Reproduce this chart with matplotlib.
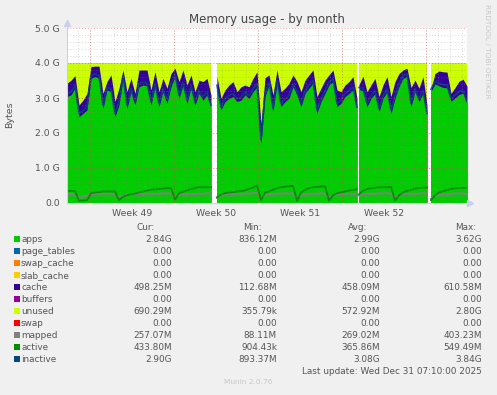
import numpy as np
import matplotlib
matplotlib.use("Agg")
import matplotlib.pyplot as plt
from matplotlib.patches import Rectangle

# memory size (G), sampling step (hours) and segment start (hours since graph start)
MEM_TOTAL = 4.0
STEP = 8
seg_start = [0, 300, 584, 728]

apps_1 = [3.04, 3.09, 3.28, 2.47, 2.56, 2.66, 3.56, 3.61, 3.56, 2.70, 3.23, 3.18, 2.47, 2.80, 3.56, 2.70,
          3.18, 2.80, 3.32, 3.37, 3.35, 2.80, 3.32, 2.75, 3.18, 2.85, 3.32, 3.61, 2.99, 3.37, 2.85, 3.28,
          2.80, 3.13, 2.94, 3.09, 2.70]
apps_2 = [3.28, 2.66, 2.90, 2.99, 3.04, 2.90, 2.94, 3.09, 2.99, 3.18, 3.32, 1.70, 3.04, 3.37, 2.61, 3.42,
          2.75, 2.90, 2.99, 3.32, 3.09, 2.75, 3.13, 3.28, 3.42, 2.56, 2.90, 3.13, 3.37, 3.47, 2.75, 2.85,
          3.04, 3.13, 3.23, 2.66]
apps_3 = [3.25, 3.20, 2.75, 2.99, 3.13, 2.61, 2.99, 3.18, 2.56, 2.99, 3.32, 3.56, 3.61, 2.75, 3.18, 2.90,
          3.13, 2.47]
apps_4 = [3.19, 3.40, 3.35, 3.30, 3.29, 2.91, 3.00, 3.10, 3.14, 2.84]

cache_1 = [0.38, 0.42, 0.36, 0.33, 0.38, 0.47, 0.34, 0.30, 0.35, 0.43, 0.24, 0.48, 0.43, 0.48, 0.24, 0.48,
           0.38, 0.33, 0.48, 0.43, 0.45, 0.43, 0.43, 0.43, 0.38, 0.43, 0.38, 0.24, 0.48, 0.43, 0.52, 0.38,
           0.38, 0.38, 0.53, 0.47, 0.39]
cache_2 = [0.33, 0.33, 0.33, 0.38, 0.43, 0.28, 0.38, 0.28, 0.33, 0.38, 0.43, 0.55, 0.54, 0.29, 0.48, 0.38,
           0.43, 0.38, 0.43, 0.34, 0.38, 0.43, 0.38, 0.38, 0.38, 0.48, 0.38, 0.38, 0.29, 0.33, 0.48, 0.33,
           0.33, 0.34, 0.38, 0.33]
cache_3 = [0.13, 0.42, 0.43, 0.38, 0.43, 0.43, 0.38, 0.43, 0.48, 0.48, 0.38, 0.24, 0.24, 0.55, 0.33, 0.38,
           0.48, 0.33]
cache_4 = [0.06, 0.30, 0.42, 0.45, 0.45, 0.22, 0.30, 0.38, 0.40, 0.50]

inactive_1 = [3.12, 3.17, 3.36, 2.56, 2.64, 2.75, 3.64, 3.69, 3.64, 2.79, 3.30, 3.27, 2.55, 2.89, 3.63, 2.79,
              3.26, 2.88, 3.41, 3.45, 3.43, 2.89, 3.40, 2.84, 3.26, 2.94, 3.40, 3.68, 3.08, 3.45, 2.94, 3.36,
              2.89, 3.21, 3.03, 3.17, 2.79]
inactive_2 = [3.36, 2.74, 2.98, 3.07, 3.12, 2.98, 3.02, 3.17, 3.07, 3.26, 3.41, 1.80, 3.12, 3.45, 2.70, 3.50,
              2.84, 2.98, 3.07, 3.40, 3.17, 2.84, 3.21, 3.36, 3.50, 2.65, 2.98, 3.21, 3.45, 3.55, 2.84, 2.93,
              3.12, 3.21, 3.31, 2.74]
inactive_3 = [3.30, 3.28, 2.84, 3.07, 3.21, 2.70, 3.07, 3.26, 2.65, 3.07, 3.40, 3.64, 3.69, 2.84, 3.26, 2.98,
              3.21, 2.56]
inactive_4 = [3.25, 3.48, 3.43, 3.38, 3.37, 2.98, 3.08, 3.18, 3.22, 2.90]

active_1 = [0.34, 0.35, 0.34, 0.07, 0.07, 0.08, 0.28, 0.30, 0.31, 0.33, 0.33, 0.33, 0.33, 0.08, 0.18, 0.22,
            0.25, 0.27, 0.30, 0.33, 0.36, 0.38, 0.39, 0.40, 0.41, 0.42, 0.43, 0.10, 0.28, 0.32, 0.36, 0.40,
            0.43, 0.45, 0.45, 0.45, 0.45]
active_2 = [0.16, 0.24, 0.28, 0.30, 0.31, 0.33, 0.34, 0.36, 0.40, 0.44, 0.50, 0.08, 0.30, 0.33, 0.38, 0.42,
            0.45, 0.47, 0.48, 0.49, 0.06, 0.30, 0.38, 0.42, 0.45, 0.46, 0.47, 0.48, 0.07, 0.22, 0.28, 0.30,
            0.33, 0.36, 0.38, 0.39]
active_3 = [0.25, 0.35, 0.40, 0.42, 0.44, 0.45, 0.45, 0.45, 0.46, 0.07, 0.22, 0.30, 0.35, 0.38, 0.41, 0.43,
            0.44, 0.44]
active_4 = [0.08, 0.22, 0.30, 0.34, 0.37, 0.40, 0.42, 0.43, 0.43, 0.43]

mapped_1 = [0.25, 0.26, 0.24, 0.14, 0.18, 0.21, 0.25, 0.26, 0.26, 0.27, 0.27, 0.26, 0.27, 0.17, 0.21, 0.23,
            0.24, 0.25, 0.26, 0.25, 0.27, 0.26, 0.27, 0.26, 0.28, 0.27, 0.28, 0.16, 0.22, 0.24, 0.25, 0.26,
            0.25, 0.27, 0.26, 0.28, 0.27]
mapped_2 = [0.15, 0.22, 0.24, 0.25, 0.25, 0.26, 0.26, 0.27, 0.27, 0.28, 0.30, 0.15, 0.22, 0.25, 0.26, 0.27,
            0.27, 0.28, 0.27, 0.28, 0.14, 0.22, 0.25, 0.26, 0.27, 0.26, 0.28, 0.27, 0.15, 0.22, 0.24, 0.25,
            0.26, 0.27, 0.26, 0.27]
mapped_3 = [0.22, 0.25, 0.26, 0.27, 0.26, 0.28, 0.27, 0.28, 0.27, 0.15, 0.22, 0.25, 0.26, 0.27, 0.26, 0.27,
            0.28, 0.27]
mapped_4 = [0.12, 0.20, 0.23, 0.24, 0.25, 0.26, 0.27, 0.28, 0.27, 0.26]

apps = [apps_1, apps_2, apps_3, apps_4]
cache = [cache_1, cache_2, cache_3, cache_4]
inactive = [inactive_1, inactive_2, inactive_3, inactive_4]
active = [active_1, active_2, active_3, active_4]
mapped = [mapped_1, mapped_2, mapped_3, mapped_4]

week_labels = ["Week 49", "Week 50", "Week 51", "Week 52"]
week_starts = [46, 214, 382, 550, 718]   # Monday 00:00, hours since start

names = ["apps", "page_tables", "swap_cache", "slab_cache", "cache", "buffers",
         "unused", "swap", "mapped", "active", "inactive"]
colors = ["#00CC00", "#0066B3", "#FF8000", "#FFCC00", "#330099", "#990099",
          "#CCFF00", "#FF0000", "#808080", "#008F00", "#00487D"]
cur_vals = ["2.84G", "0.00", "0.00", "0.00", "498.25M", "0.00", "690.29M", "0.00", "257.07M", "433.80M", "2.90G"]
min_vals = ["836.12M", "0.00", "0.00", "0.00", "112.68M", "0.00", "355.79k", "0.00", "88.11M", "904.43k", "893.37M"]
avg_vals = ["2.99G", "0.00", "0.00", "0.00", "458.09M", "0.00", "572.92M", "0.00", "269.02M", "365.86M", "3.08G"]
max_vals = ["3.62G", "0.00", "0.00", "0.00", "610.58M", "0.00", "2.80G", "0.00", "403.23M", "549.49M", "3.84G"]

W, H = 497, 395
TXT = "#555555"
plt.rcParams["font.family"] = "DejaVu Sans"

fig = plt.figure(figsize=(W / 100, H / 100), dpi=100, facecolor="#F0F0F0")
ax = fig.add_axes([67 / W, 1 - 203 / H, 400 / W, 175 / H])
ax.set_facecolor("white")

for k in range(len(apps)):
    t = seg_start[k] + STEP * np.arange(len(apps[k]))
    a = np.array(apps[k])
    c = np.array(cache[k])
    # draw overlapping stacks so no seams appear between the areas
    ax.fill_between(t, 0, MEM_TOTAL, color=colors[6], lw=0, zorder=1)
    ax.fill_between(t, 0, a + c, color=colors[4], lw=0, zorder=2)
    ax.fill_between(t, 0, a, color=colors[0], lw=0, zorder=3)
    ax.plot(t, mapped[k], color=colors[8], lw=1.4, zorder=4)
    ax.plot(t, active[k], color=colors[9], lw=1.3, zorder=4)
    ax.plot(t, inactive[k], color=colors[10], lw=1.3, alpha=0.8, zorder=4)

# grid on top of the data, like rrdtool
for h in np.arange(week_starts[0] - 24, 800, 24):
    ax.axvline(h, color=(0.55, 0.55, 0.55, 0.35), lw=0.7, ls=(0, (1, 2)), zorder=5)
for v in np.arange(0.2, 5.0, 0.2):
    ax.axhline(v, color=(0.55, 0.55, 0.55, 0.35), lw=0.7, ls=(0, (1, 2)), zorder=5)
for h in week_starts:
    ax.axvline(h, color=(0.9, 0.2, 0.2, 0.45), lw=0.7, ls=(0, (1, 2)), zorder=6)
for v in range(1, 6):
    ax.axhline(v, color=(0.9, 0.2, 0.2, 0.45), lw=0.7, ls=(0, (1, 2)), zorder=6)

ax.set_xlim(0, 800)
ax.set_ylim(0, 5.0)
for s in ax.spines.values():
    s.set_visible(False)

ax.set_yticks([0, 1, 2, 3, 4, 5], ["0.0", "1.0 G", "2.0 G", "3.0 G", "4.0 G", "5.0 G"])
centers = [(week_starts[i] + week_starts[i + 1]) / 2 for i in range(len(week_labels))]
ax.set_xticks(centers, week_labels)
ax.tick_params(axis="y", length=0, pad=5, labelsize=6.7, labelcolor=TXT)
ax.tick_params(axis="x", length=0, pad=4, labelsize=6.7, labelcolor=TXT)

# axis lines with arrows
ax.plot([0, 0], [0, 5.12], color="#C8D0EE", lw=0.8, clip_on=False, zorder=7)
ax.plot([0, 806], [0, 0], color="#C8D0EE", lw=0.8, clip_on=False, zorder=7)
ax.plot([0], [5.15], marker="^", ms=4, color="#C8D0EE", clip_on=False, zorder=7)
ax.plot([806], [0], marker=">", ms=4, color="#C8D0EE", clip_on=False, zorder=7)


def fx(x):
    return x / W


def fy(y):
    return 1 - y / H


fig.text(fx(267), fy(19), "Memory usage - by month", ha="center", va="center", fontsize=8.5, color="#444444")
fig.text(fx(10), fy(115), "Bytes", ha="center", va="center", rotation=90, fontsize=6.8, color=TXT)
fig.text(fx(487), fy(51), "RRDTOOL / TOBI OETIKER", ha="center", va="center", rotation=270,
         fontsize=5.3, color="#C8C8C8")

# legend table
LS = 6.4
for lab, xc in zip(["Cur:", "Min:", "Avg:", "Max:"], [146, 252, 358, 466]):
    fig.text(fx(xc), fy(227.5), lab, ha="center", va="center", fontsize=LS, color=TXT)

row_y = 239.3
for i in range(len(names)):
    y = row_y + 12 * i
    fig.patches.append(Rectangle((fx(14), fy(y + 3)), 6 / W, 6 / H, transform=fig.transFigure,
                                 facecolor=colors[i], edgecolor="none"))
    fig.text(fx(21), fy(y), names[i], ha="left", va="center", fontsize=LS, color=TXT)
    fig.text(fx(172), fy(y), cur_vals[i], ha="right", va="center", fontsize=LS, color=TXT)
    fig.text(fx(277), fy(y), min_vals[i], ha="right", va="center", fontsize=LS, color=TXT)
    fig.text(fx(380), fy(y), avg_vals[i], ha="right", va="center", fontsize=LS, color=TXT)
    fig.text(fx(482), fy(y), max_vals[i], ha="right", va="center", fontsize=LS, color=TXT)

fig.text(fx(482), fy(371), "Last update: Wed Dec 31 07:10:00 2025", ha="right", va="center",
         fontsize=LS, color=TXT)
fig.text(fx(248), fy(382.5), "Munin 2.0.76", ha="center", va="center", fontsize=5.3, color="#C8C8C8")

fig.savefig("out.png", dpi=100, facecolor=fig.get_facecolor())
